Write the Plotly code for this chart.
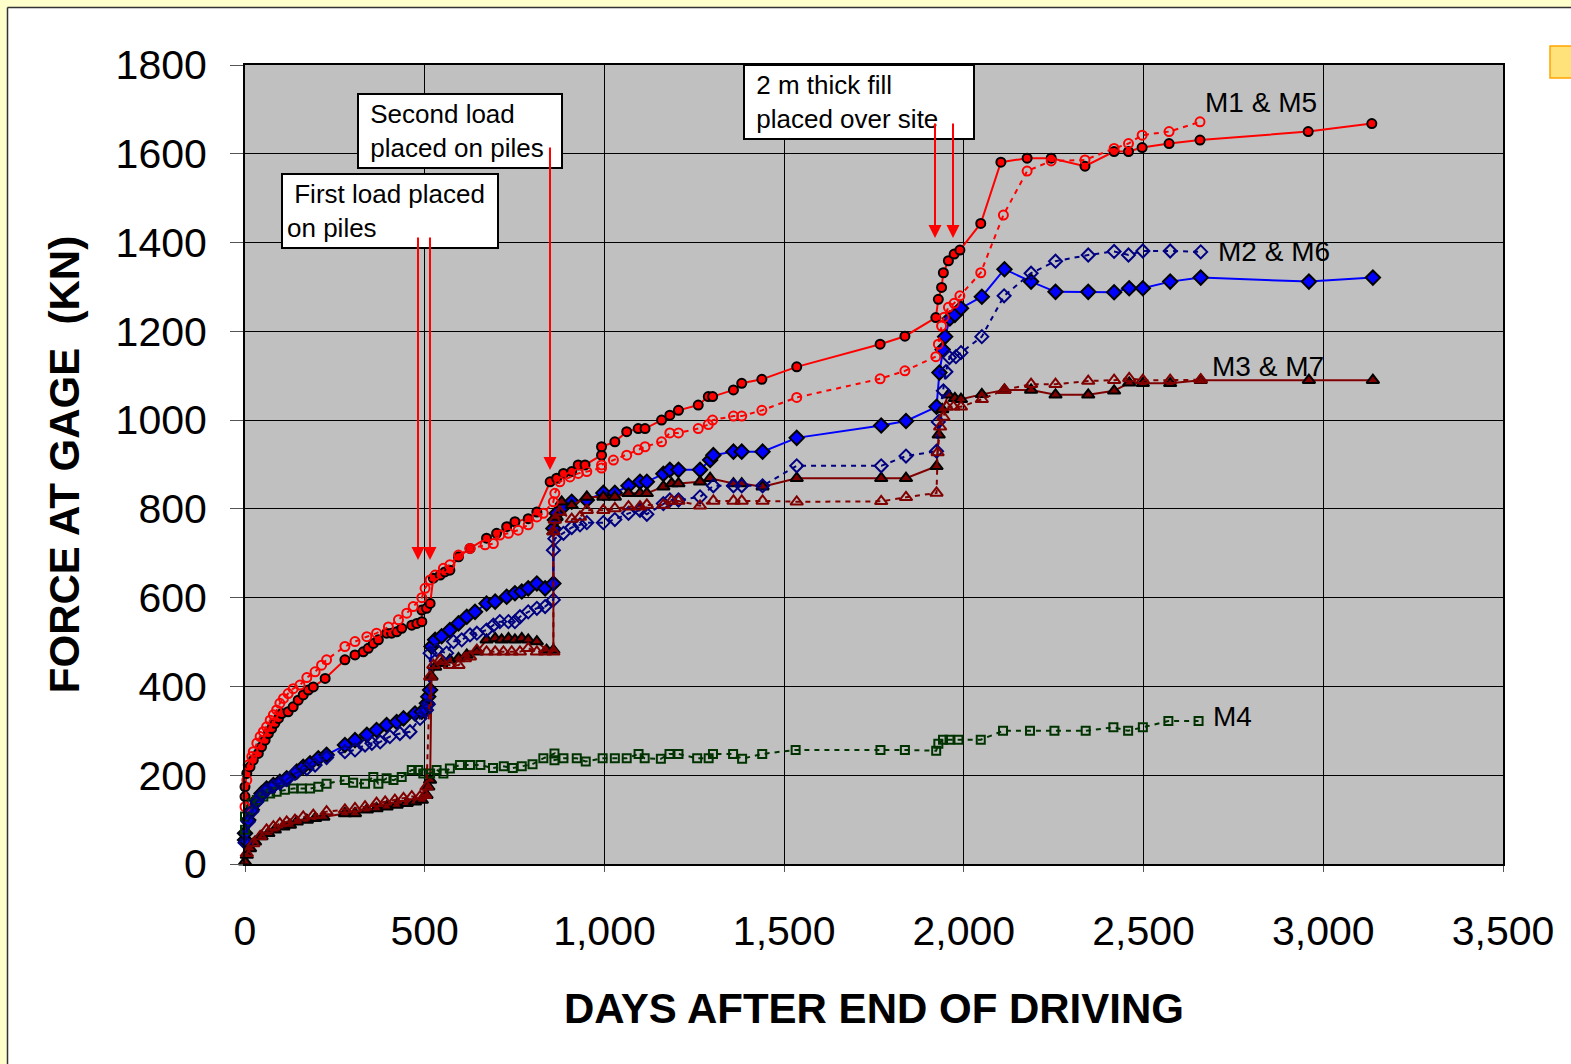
import plotly.graph_objects as go

# ---- data (days after end of driving, force kN) ----
m1_days = [0, 0, 5, 14, 23, 37, 46, 56, 65, 74, 83, 93, 102, 120, 134, 148, 162, 176, 190, 223, 278, 306, 329, 343,
           357, 371, 394, 408, 422, 436, 464, 478, 492, 492, 505, 515, 524, 543, 556, 570, 594, 626, 672, 700, 728,
           751, 788, 812, 849, 867, 886, 909, 927, 946, 992, 992, 1029, 1062, 1094, 1113, 1159, 1182, 1206, 1261,
           1289, 1301, 1359, 1382, 1438, 1535, 1767, 1836, 1922, 1929, 1938, 1943, 1957, 1973, 1989, 2047, 2103,
           2176, 2243, 2337, 2418, 2458, 2496, 2571, 2657, 2958, 3135]
m1_force = [152, 174, 204, 219, 234, 249, 264, 279, 294, 305, 317, 328, 339, 343, 354, 369, 381, 392, 399, 418, 460,
            471, 478, 486, 497, 505, 520, 520, 523, 531, 538, 542, 546, 572, 576, 587, 644, 651, 658, 662, 692, 711,
            734, 745, 760, 771, 778, 793, 861, 869, 880, 884, 899, 899, 921, 940, 951, 974, 981, 981, 1000, 1011,
            1022, 1034, 1053, 1053, 1068, 1083, 1092, 1120, 1171, 1189, 1231, 1272, 1299, 1332, 1359, 1374, 1383,
            1443, 1581, 1590, 1590, 1572, 1605, 1605, 1614, 1623, 1631, 1650, 1668]

m5_days = [0, 5, 9, 19, 23, 33, 42, 51, 60, 70, 79, 88, 97, 107, 120, 134, 153, 172, 195, 213, 227, 278, 306, 339,
           366, 399, 427, 450, 468, 492, 501, 515, 529, 552, 570, 594, 626, 668, 691, 709, 733, 760, 788, 812, 830,
           858, 862, 876, 904, 927, 951, 992, 992, 1025, 1062, 1094, 1113, 1159, 1182, 1206, 1261, 1289, 1301, 1359,
           1382, 1438, 1535, 1767, 1836, 1922, 1929, 1938, 1945, 1957, 1973, 1989, 2047, 2110, 2176, 2243, 2337,
           2418, 2458, 2496, 2571, 2657]
m5_force = [129, 189, 223, 242, 253, 272, 287, 298, 309, 324, 336, 347, 362, 373, 384, 395, 403, 420, 433, 448, 460,
            490, 501, 512, 520, 534, 550, 565, 580, 600, 621, 640, 651, 666, 674, 696, 711, 719, 722, 741, 745, 752,
            764, 782, 790, 816, 835, 861, 872, 880, 884, 892, 899, 910, 921, 933, 940, 951, 971, 971, 981, 990, 1000,
            1009, 1009, 1022, 1051, 1093, 1111, 1143, 1171, 1212, 1232, 1254, 1263, 1280, 1332, 1462, 1561, 1584,
            1586, 1612, 1623, 1642, 1650, 1672]

m2_days = [0, 0, 9, 19, 33, 46, 60, 79, 97, 116, 144, 162, 181, 204, 227, 278, 306, 339, 366, 394, 422, 441, 473,
           492, 506, 510, 515, 519, 529, 547, 570, 594, 617, 640, 672, 696, 728, 751, 770, 788, 812, 835, 858, 858,
           862, 867, 886, 909, 951, 997, 1029, 1067, 1099, 1118, 1164, 1182, 1206, 1266, 1294, 1303, 1359, 1382,
           1440, 1535, 1770, 1839, 1924, 1932, 1941, 1948, 1961, 1975, 1992, 2050, 2113, 2187, 2255, 2346, 2418,
           2460, 2498, 2574, 2659, 2960, 3138]
m2_force = [54, 69, 99, 122, 144, 159, 170, 178, 185, 193, 208, 219, 227, 238, 246, 268, 279, 291, 302, 313, 320,
            328, 339, 343, 362, 377, 392, 490, 505, 513, 527, 542, 557, 568, 587, 591, 602, 610, 614, 621, 632, 621,
            632, 756, 775, 790, 805, 816, 820, 836, 836, 852, 861, 861, 879, 888, 888, 888, 910, 921, 929, 929, 929,
            960, 988, 998, 1030, 1107, 1159, 1188, 1229, 1237, 1252, 1278, 1340, 1312, 1289, 1289, 1288, 1297, 1297,
            1312, 1321, 1312, 1321]

m6_days = [0, 9, 19, 33, 46, 60, 79, 97, 116, 139, 172, 195, 227, 278, 306, 334, 353, 376, 403, 431, 459, 487, 505,
           510, 515, 533, 561, 580, 603, 626, 645, 672, 691, 709, 733, 751, 765, 788, 812, 835, 858, 858, 862, 886,
           909, 932, 951, 997, 1029, 1067, 1099, 1118, 1164, 1182, 1206, 1266, 1303, 1359, 1382, 1440, 1535, 1770,
           1839, 1924, 1929, 1943, 1950, 1960, 1978, 1992, 2050, 2112, 2187, 2255, 2346, 2418, 2458, 2498, 2574, 2659]
m6_force = [48, 95, 118, 140, 155, 166, 175, 182, 190, 204, 215, 223, 240, 253, 257, 268, 272, 275, 287, 294, 298,
            328, 347, 360, 475, 482, 475, 501, 505, 516, 520, 527, 538, 546, 546, 546, 557, 568, 576, 580, 595, 707,
            733, 745, 758, 764, 769, 769, 776, 790, 797, 788, 812, 820, 820, 827, 852, 852, 852, 852, 897, 897, 919,
            930, 996, 1066, 1109, 1141, 1143, 1152, 1188, 1280, 1331, 1358, 1372, 1380, 1372, 1381, 1381, 1379]

m3_days = [0, 5, 14, 28, 46, 65, 83, 107, 125, 144, 172, 195, 218, 278, 306, 339, 366, 394, 422, 450, 473, 492, 505,
           510, 515, 519, 529, 547, 570, 594, 617, 645, 672, 696, 714, 733, 751, 770, 788, 812, 839, 858, 858, 867,
           881, 909, 951, 997, 1029, 1067, 1099, 1118, 1164, 1187, 1206, 1266, 1294, 1359, 1382, 1440, 1535, 1770,
           1839, 1924, 1930, 1940, 1957, 1975, 1992, 2050, 2113, 2187, 2255, 2346, 2418, 2460, 2498, 2574, 2659,
           2960, 3138]
m3_force = [5, 20, 35, 50, 62, 69, 77, 84, 88, 95, 99, 103, 106, 114, 114, 122, 125, 129, 133, 137, 140, 144, 155,
            174, 189, 422, 444, 452, 460, 463, 471, 478, 505, 508, 505, 508, 505, 508, 505, 501, 482, 482, 749, 782,
            816, 808, 827, 827, 827, 835, 835, 835, 850, 857, 857, 861, 869, 857, 857, 850, 869, 869, 869, 896, 967,
            1024, 1057, 1049, 1047, 1058, 1068, 1068, 1057, 1057, 1066, 1084, 1083, 1083, 1090, 1090, 1090]

m7_days = [5, 23, 42, 60, 79, 97, 116, 139, 162, 190, 227, 278, 306, 334, 366, 390, 417, 441, 464, 487, 501, 505,
           515, 524, 543, 570, 594, 612, 626, 645, 672, 696, 719, 742, 765, 788, 812, 835, 858, 858, 862, 876, 909,
           932, 951, 997, 1029, 1067, 1099, 1118, 1164, 1187, 1206, 1266, 1303, 1359, 1382, 1440, 1535, 1770, 1839,
           1924, 1927, 1934, 1943, 1952, 1971, 1992, 2050, 2113, 2187, 2255, 2346, 2418, 2460, 2498, 2574, 2659]
m7_force = [24, 46, 62, 77, 84, 91, 95, 99, 106, 110, 118, 122, 125, 129, 137, 140, 144, 148, 152, 152, 155, 174,
            422, 448, 460, 448, 448, 463, 467, 482, 478, 478, 478, 478, 478, 486, 478, 478, 478, 749, 775, 793, 777,
            782, 797, 797, 801, 805, 805, 809, 809, 818, 818, 807, 818, 818, 818, 818, 816, 817, 826, 836, 927, 985,
            1007, 1030, 1030, 1030, 1047, 1068, 1081, 1081, 1088, 1090, 1094, 1090, 1090, 1091]

m4_days = [0, 0, 9, 19, 33, 51, 70, 88, 111, 134, 158, 181, 204, 227, 278, 301, 334, 357, 371, 394, 413, 436, 464,
           482, 496, 515, 533, 552, 570, 598, 626, 655, 690, 720, 745, 770, 800, 830, 861, 861, 886, 923, 948, 995,
           1029, 1062, 1095, 1112, 1157, 1181, 1206, 1258, 1290, 1302, 1358, 1383, 1439, 1532, 1768, 1836, 1923,
           1929, 1942, 1960, 1985, 2047, 2109, 2184, 2252, 2339, 2416, 2457, 2498, 2569, 2653]
m4_force = [77, 107, 122, 137, 144, 152, 159, 163, 167, 170, 170, 170, 174, 181, 189, 183, 181, 196, 181, 193, 189,
            196, 212, 212, 204, 204, 212, 204, 215, 223, 223, 223, 216, 220, 216, 220, 225, 238, 249, 234, 238, 238,
            231, 238, 238, 238, 248, 238, 237, 248, 248, 238, 238, 248, 248, 237, 248, 257, 257, 257, 255, 271, 280,
            280, 280, 280, 300, 300, 300, 300, 308, 300, 308, 322, 322]

x_ticks = [0, 500, 1000, 1500, 2000, 2500, 3000, 3500]
y_ticks = [0, 200, 400, 600, 800, 1000, 1200, 1400, 1600, 1800]

FONT = "Liberation Sans, Arial, sans-serif"

# plot area in page pixels, used to place the decorations
L, R, T, B = 245, 1503, 65, 864


def xp(px):
    return (px - L) / (R - L)


def yp(py):
    return (B - py) / (B - T)


def xd(px):
    return xp(px) * 3500


def yd(py):
    return yp(py) * 1800


fig = go.Figure()

series = [
    (m1_days, m1_force, "M1", "#FF0000", "solid", "circle", "#FF0000", "black", 9),
    (m2_days, m2_force, "M2", "#0000FF", "solid", "diamond", "#0000FF", "black", 11),
    (m3_days, m3_force, "M3", "#800000", "solid", "triangle-up", "#800000", "black", 11),
    (m4_days, m4_force, "M4", "#003300", "5px,5px", "square-open", "#003300", "#003300", 8),
    (m5_days, m5_force, "M5", "#FF0000", "5px,5px", "circle-open", "#FF0000", "#FF0000", 9),
    (m6_days, m6_force, "M6", "#000080", "5px,5px", "diamond-open", "#000080", "#000080", 10),
    (m7_days, m7_force, "M7", "#800000", "5px,5px", "triangle-up-open", "#800000", "#800000", 11),
]
for d, f, name, col, dash, sym, fill, edge, size in series:
    fig.add_trace(go.Scatter(
        x=d, y=f, name=name, mode="lines+markers", cliponaxis=False,
        line=dict(color=col, width=2, dash=dash),
        marker=dict(symbol=sym, size=size, color=fill, line=dict(color=edge, width=2)),
    ))

annotations = []
# text boxes
boxes = [
    ("\u00a0First load placed<br>on piles", 281, 173, 206, 64),
    ("\u00a0Second load<br>\u00a0placed on piles", 357, 93, 194, 64),
    ("\u00a02 m thick fill<br>\u00a0placed over site", 743, 64, 220, 64),
]
for txt, bx, by, w, h in boxes:
    annotations.append(dict(
        x=xp(bx), y=yp(by), xref="paper", yref="paper", xanchor="left", yanchor="top",
        text=txt, showarrow=False, align="left", width=w, height=h,
        bgcolor="white", bordercolor="black", borderwidth=2, borderpad=4,
        font=dict(family=FONT, size=26, color="black"),
    ))

# red arrows (x pixel, start y pixel, tip y pixel)
arrows = [(418, 236, 560), (430, 236, 560), (550, 146, 470), (935, 122, 238), (953, 122, 238)]
for ax_, y0, y1 in arrows:
    annotations.append(dict(
        x=xd(ax_), y=yd(y1), ax=xd(ax_), ay=yd(y0), xref="x", yref="y", axref="x", ayref="y",
        text="", showarrow=True, arrowhead=2, arrowsize=1.3, arrowwidth=2, arrowcolor="#FF0000",
        standoff=0, startstandoff=0,
    ))

# series labels
labels = [("M1 & M5", 1261, 102), ("M2 & M6", 1274, 251), ("M3 & M7", 1268, 366), ("M4", 1232, 716)]
for txt, lx, ly in labels:
    annotations.append(dict(
        x=xd(lx), y=yd(ly), xref="x", yref="y", text=txt, showarrow=False,
        font=dict(family=FONT, size=28, color="black"),
    ))

shapes = [
    # pale yellow page border strips
    dict(type="rect", xref="paper", yref="paper", x0=xp(0), x1=xp(1571), y0=yp(7), y1=yp(0),
         fillcolor="#FFFFCC", line=dict(width=0)),
    dict(type="rect", xref="paper", yref="paper", x0=xp(0), x1=xp(7), y0=yp(1064), y1=yp(0),
         fillcolor="#FFFFCC", line=dict(width=0)),
    dict(type="line", xref="paper", yref="paper", x0=xp(7.5), x1=xp(1571), y0=yp(7.5), y1=yp(7.5),
         line=dict(color="#333333", width=1.5)),
    dict(type="line", xref="paper", yref="paper", x0=xp(7.5), x1=xp(7.5), y0=yp(7.5), y1=yp(1064),
         line=dict(color="#333333", width=1.5)),
    # small yellow square at top right
    dict(type="rect", xref="paper", yref="paper", x0=xp(1550), x1=xp(1575), y0=yp(78), y1=yp(46),
         fillcolor="#FFE27A", line=dict(color="#FFA500", width=1.5)),
]

fig.update_layout(
    width=1571, height=1064,
    margin=dict(l=L, r=1571 - R, t=T, b=1064 - B),
    paper_bgcolor="white", plot_bgcolor="#C0C0C0",
    showlegend=False,
    font=dict(family=FONT, color="black"),
    annotations=annotations, shapes=shapes,
)
fig.update_xaxes(
    range=[0, 3500], tickvals=x_ticks, tickformat=",", showgrid=True, gridcolor="black", gridwidth=1,
    showline=True, mirror=True, linecolor="black", linewidth=2, zeroline=False,
    ticks="outside", ticklen=6, tickcolor="#555555", ticklabelstandoff=24,
    tickfont=dict(family=FONT, size=41),
    title=dict(text="<b>DAYS AFTER END OF DRIVING</b>", font=dict(family=FONT, size=42), standoff=40),
)
fig.update_yaxes(
    range=[0, 1800], tickvals=y_ticks, showgrid=True, gridcolor="black", gridwidth=1,
    showline=True, mirror=True, linecolor="black", linewidth=2, zeroline=False,
    ticks="outside", ticklen=13, tickcolor="#555555", ticklabelstandoff=15,
    tickfont=dict(family=FONT, size=41),
    title=dict(text="<b>FORCE AT GAGE \u00a0(KN)</b>", font=dict(family=FONT, size=42), standoff=23),
)

fig.write_html("out.html", config={"displayModeBar": False},
               post_script="document.body.style.margin='0';document.body.style.overflow='hidden';")
